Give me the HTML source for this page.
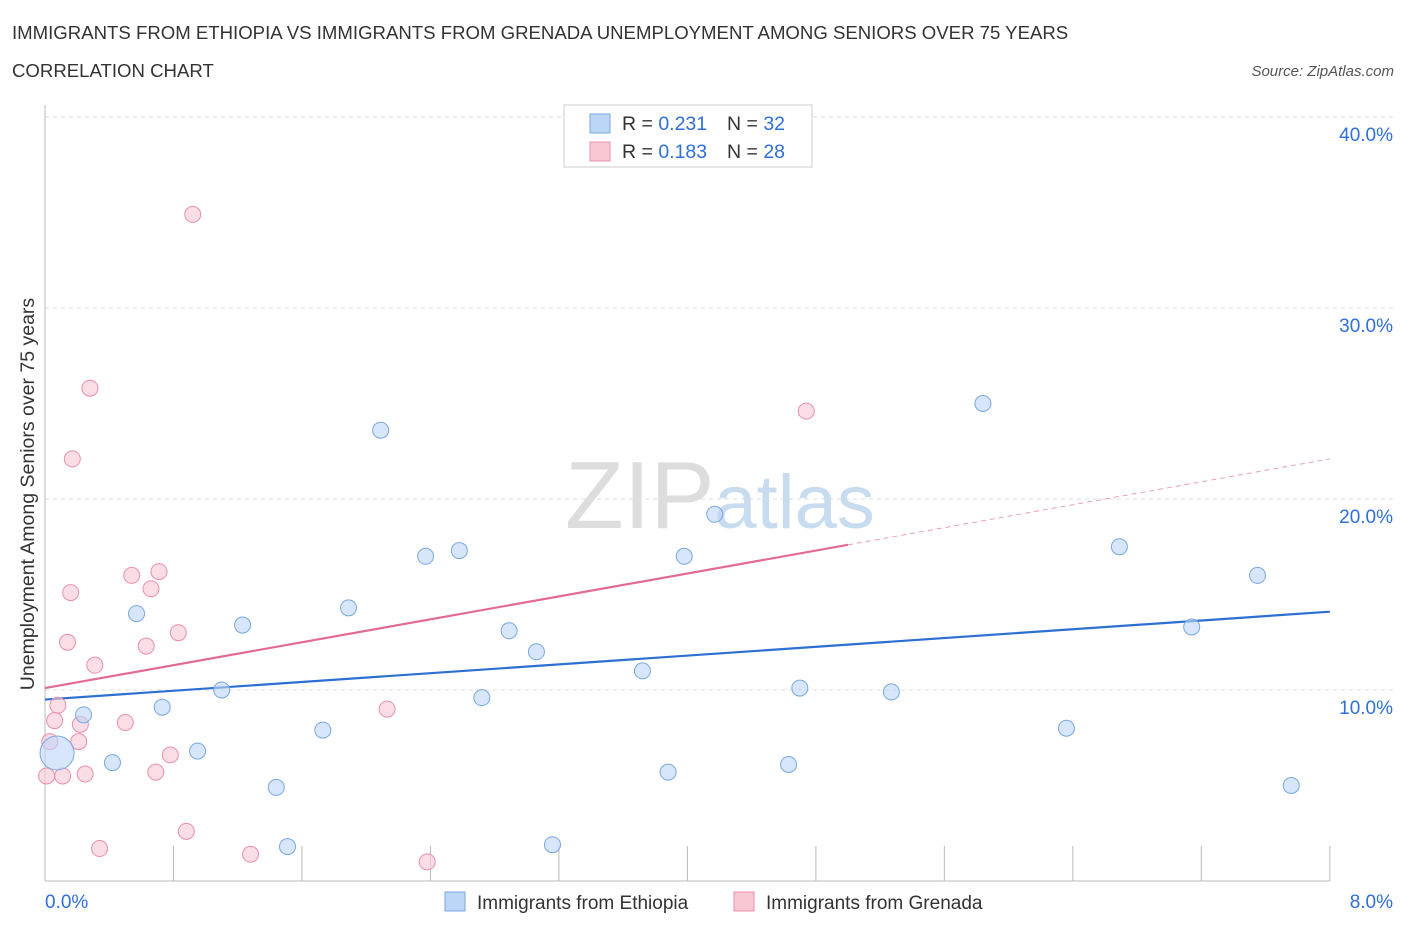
<!DOCTYPE html>
<html><head><meta charset="utf-8"><style>
body{margin:0;background:#fff;font-family:"Liberation Sans",sans-serif;}
svg text{font-family:"Liberation Sans",sans-serif;}
</style></head><body>
<svg id="chart" width="1406" height="930" xmlns="http://www.w3.org/2000/svg">
<text x="12" y="39" font-size="18.6" fill="#333">IMMIGRANTS FROM ETHIOPIA VS IMMIGRANTS FROM GRENADA UNEMPLOYMENT AMONG SENIORS OVER 75 YEARS</text>
<text x="12" y="77" font-size="18.6" fill="#333">CORRELATION CHART</text>
<text x="1394" y="76" font-size="15" fill="#555" text-anchor="end" font-style="italic">Source: ZipAtlas.com</text>
<text x="720" y="528" font-size="96" text-anchor="middle" fill="#ddd" font-family="Liberation Serif">ZIP<tspan fill="#c8dcf0" font-family="Liberation Sans" font-size="76">atlas</tspan></text>
<g id="grid"></g><g id="axes"></g><g id="trend"></g><g id="pts"></g>
<text transform="translate(34,494) rotate(-90)" font-size="19.5" fill="#333" text-anchor="middle">Unemployment Among Seniors over 75 years</text>
<g>
<rect x="564" y="105" width="248" height="62" fill="#fff" stroke="#ccc"/>
<rect x="590" y="114" width="20" height="19" fill="#bcd6f7" stroke="#7aa7e0"/>
<rect x="590" y="142" width="20" height="19" fill="#f9c6d4" stroke="#e890aa"/>
<text x="622" y="130" font-size="19.5" fill="#333">R = <tspan fill="#2f6fd6">0.231</tspan></text>
<text x="727" y="130" font-size="19.5" fill="#333">N = <tspan fill="#2f6fd6">32</tspan></text>
<text x="622" y="158" font-size="19.5" fill="#333">R = <tspan fill="#2f6fd6">0.183</tspan></text>
<text x="727" y="158" font-size="19.5" fill="#333">N = <tspan fill="#2f6fd6">28</tspan></text>
</g>
<g>
<rect x="445" y="892" width="20" height="19" fill="#bcd6f7" stroke="#7aa7e0"/>
<text x="477" y="909" font-size="19" fill="#333">Immigrants from Ethiopia</text>
<rect x="734" y="892" width="20" height="19" fill="#f9c6d4" stroke="#e890aa"/>
<text x="766" y="909" font-size="19" fill="#333">Immigrants from Grenada</text>
</g>
</svg>
<script>
const blueX=[0.075,0.24,0.42,0.57,0.73,0.95,1.10,1.23,1.44,1.51,1.73,1.89,2.09,2.37,2.58,2.72,2.89,3.06,3.16,3.72,3.88,3.98,4.17,4.63,4.70,5.27,5.84,6.36,6.69,7.14,7.55,7.76];
const blueY=[6.7,8.7,6.2,14.0,9.1,6.8,10.0,13.4,4.9,1.8,7.9,14.3,23.6,17.0,17.3,9.6,13.1,12.0,1.9,11.0,5.7,17.0,19.2,6.1,10.1,9.9,25.0,8.0,17.5,13.3,16.0,5.0];
const pinkX=[0.92,0.28,0.17,0.16,0.14,0.31,0.08,0.06,0.22,0.03,0.21,0.01,0.11,0.25,0.34,0.54,0.71,0.66,0.63,0.83,0.50,0.78,0.69,0.88,1.28,2.13,2.38,4.74];
const pinkY=[34.9,25.8,22.1,15.1,12.5,11.3,9.2,8.4,8.2,7.3,7.3,5.5,5.5,5.6,1.7,16.0,16.2,15.3,12.3,13.0,8.3,6.6,5.7,2.6,1.4,9.0,1.0,24.6];
const yTicks=[10,20,30,40];
const blueTrend=[9.5,14.1];
const pinkTrend=[10.1,22.1];
const pinkSolidEnd=5.0;
const X=v=>45+v*160.6, Y=v=>881-v*19.1;
const NS="http://www.w3.org/2000/svg";
function mk(p,t,a){const e=document.createElementNS(NS,t);for(const k in a)e.setAttribute(k,a[k]);document.getElementById(p).appendChild(e);return e;}
yTicks.forEach(t=>{
 const l=mk('grid','line',{x1:45,x2:1394,y1:Y(t),y2:Y(t),stroke:'#ddd','stroke-dasharray':'4,4'});
 
 
 const tx=mk('grid','text',{x:1393,y:Y(t)+24,'font-size':19,fill:'#2f6fd6','text-anchor':'end'});
 tx.textContent=t.toFixed(1)+'%';
 
 
});
const topG=mk('grid','line',{x1:45,x2:1394,y1:117,y2:117,stroke:'#ddd','stroke-dasharray':'4,4'});


const ya=mk('axes','line',{x1:45,x2:45,y1:105,y2:881,stroke:'#bbb'});


const xa=mk('axes','line',{x1:45,x2:1330,y1:881,y2:881,stroke:'#bbb'});


for(let i=0;i<=10;i++){const xv=i*0.8;const tk=mk('axes','line',{x1:X(xv),x2:X(xv),y1:846,y2:881,stroke:'#bbb'});
 
 }
[[0,'0.0%','start',45],[8,'8.0%','end',1393]].forEach(a=>{const t=mk('axes','text',{x:a[3],y:908,'font-size':19,fill:'#2f6fd6','text-anchor':a[2]});t.textContent=a[1];
 
 });
function pts(xs,ys,fill,stroke,name){xs.forEach((x,i)=>{const r=(name==='blue-point'&&i===0)?17:8;
 const c=mk('pts','circle',{cx:X(x),cy:Y(ys[i]),r:r,fill:fill,stroke:stroke,'stroke-width':1,'fill-opacity':0.6});
 
 });}
pts(pinkX,pinkY,'#f9c6d4','#e890aa','pink-point');
pts(blueX,blueY,'#bcd6f7','#7aa7e0','blue-point');
const bt=mk('trend','line',{x1:X(0),y1:Y(blueTrend[0]),x2:X(8),y2:Y(blueTrend[1]),stroke:'#2d6fd2','stroke-width':2.2});


const pm=pinkTrend[0]+(pinkTrend[1]-pinkTrend[0])*pinkSolidEnd/8;
const pt=mk('trend','line',{x1:X(0),y1:Y(pinkTrend[0]),x2:X(pinkSolidEnd),y2:Y(pm),stroke:'#e26b91','stroke-width':2.2});


const pd=mk('trend','line',{x1:X(pinkSolidEnd),y1:Y(pm),x2:X(8),y2:Y(pinkTrend[1]),stroke:'#e8a0b8','stroke-width':1,'stroke-dasharray':'5,4'});


</script>
</body></html>
